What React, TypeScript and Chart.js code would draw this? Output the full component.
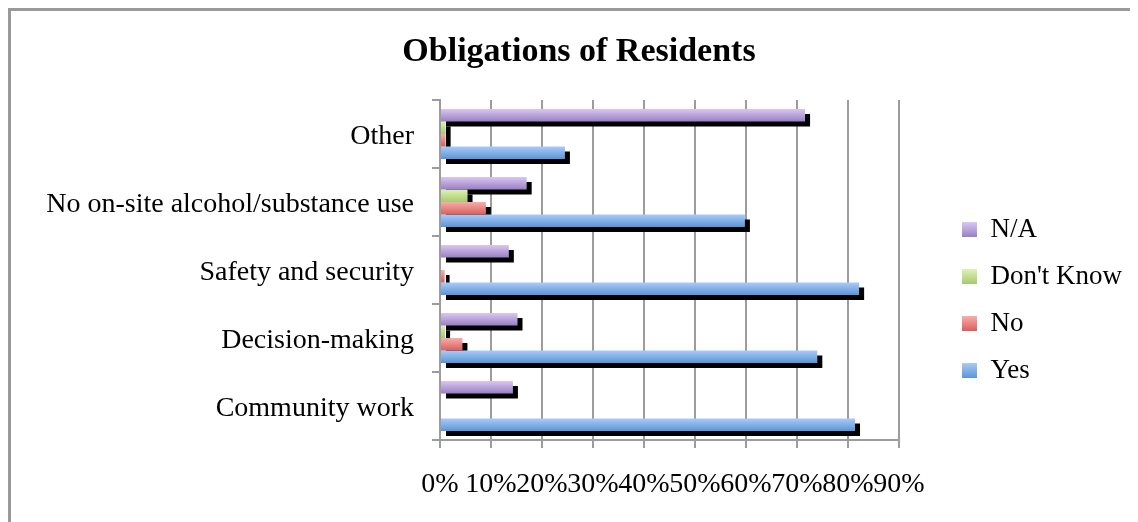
import React, { useEffect, useRef } from "react";
import { Chart, registerables } from "chart.js";

Chart.register(...registerables);

// ---------- data ----------
const categories = [
  "Other",
  "No on-site alcohol/substance use",
  "Safety and security",
  "Decision-making",
  "Community work",
];
const seriesNames = ["N/A", "Don't Know", "No", "Yes"];
const naValues = [71.6, 17.0, 13.5, 15.2, 14.3];
const dontKnowValues = [1.1, 5.4, 0, 1.0, 0];
const noValues = [1.1, 9.0, 0.9, 4.4, 0];
const yesValues = [24.5, 59.8, 82.2, 74.0, 81.4];
const xTickValues = [0, 10, 20, 30, 40, 50, 60, 70, 80, 90];

// ---------- styles ----------
const FONT = "'Liberation Serif', 'Times New Roman', serif";
const topColors = ["#d8c8f0", "#def2b8", "#f8aeab", "#aacbf7"];
const bottomColors = ["#9a7fc4", "#a6ca6c", "#d65f5c", "#5a95d7"];
const midColors = ["#b8a2da", "#c3e08f", "#e88582", "#80b0ea"];
const GRID = "#9c9c9c";
const CANVAS_W = 1127;
const CANVAS_H = 511;
const Y_AXIS_W = 429;
const X_AXIS_H = 82;
const LEGEND_LEFT = 931;
const LEGEND_CENTER_Y = 289;
const LEGEND_FONT = 27;
const LEGEND_BOX = 15;
const TITLE_CENTER_X = 568;
const SHADOW = 5;

const refPlugin = {
  id: "refPlugin",
  afterLayout(chart: any) {
    const lg = chart.legend;
    if (lg) {
      const w = lg.width;
      const h = lg.height;
      lg.left = LEGEND_LEFT;
      lg.right = LEGEND_LEFT + w;
      lg.top = LEGEND_CENTER_Y - h / 2;
      lg.bottom = lg.top + h;
    }
    const tb = chart.titleBlock;
    if (tb) {
      const w = tb.width;
      tb.left = TITLE_CENTER_X - w / 2;
      tb.right = tb.left + w;
    }
  },
  beforeDraw(chart: any) {
    const lg = chart.legend;
    const ctx = chart.ctx;
    if (!lg || !lg.legendItems || !lg.legendHitBoxes) return;
    lg.legendItems.forEach((item: any, i: number) => {
      const hb = lg.legendHitBoxes[i];
      if (!hb) return;
      const top = hb.top + Math.max((LEGEND_FONT - LEGEND_BOX) / 2, 0);
      const g = ctx.createLinearGradient(0, top, 0, top + LEGEND_BOX);
      const di = item.datasetIndex;
      g.addColorStop(0, topColors[di]);
      g.addColorStop(1, bottomColors[di]);
      item.fillStyle = g;
    });
  },
  beforeDatasetsDraw(chart: any) {
    const ctx = chart.ctx;
    chart.data.datasets.forEach((_ds: any, di: number) => {
      const meta = chart.getDatasetMeta(di);
      meta.data.forEach((el: any) => {
        const { x, y, base, height } = el.getProps(["x", "y", "base", "height"], true);
        const left = Math.min(x, base);
        const w = Math.abs(x - base);
        const top = y - height / 2;
        const g = ctx.createLinearGradient(0, top, 0, top + height);
        g.addColorStop(0, topColors[di]);
        g.addColorStop(1, bottomColors[di]);
        el.options = Object.assign({}, el.options, { backgroundColor: g });
        if (w > 0.5) {
          ctx.save();
          ctx.fillStyle = "#000";
          ctx.fillRect(left + SHADOW, top + SHADOW, w, height);
          ctx.restore();
        }
      });
    });
  },
};

export default function App() {
  const ref = useRef<HTMLCanvasElement>(null);

  useEffect(() => {
    document.documentElement.style.overflow = "hidden";
    document.body.style.overflow = "hidden";
    const seriesValues = [naValues, dontKnowValues, noValues, yesValues];
    const chart = new Chart(ref.current as HTMLCanvasElement, {
      type: "bar",
      data: {
        labels: categories,
        datasets: seriesNames.map((name, i) => ({
          label: name,
          data: seriesValues[i],
          backgroundColor: midColors[i],
          borderWidth: 0,
          categoryPercentage: 0.735,
          barPercentage: 1.0,
        })),
      },
      options: {
        indexAxis: "y",
        responsive: false,
        maintainAspectRatio: false,
        animation: false,
        events: [],
        layout: { padding: { top: 0, right: 49, bottom: 0, left: 0 } },
        plugins: {
          title: {
            display: true,
            text: "Obligations of Residents",
            color: "#000",
            font: { family: FONT, size: 34, weight: "bold", lineHeight: 1.2 },
            padding: { top: 20.6, bottom: 27.6 },
          },
          legend: {
            display: true,
            position: "right",
            fullSize: false,
            labels: {
              color: "#000",
              font: { family: FONT, size: LEGEND_FONT },
              boxWidth: LEGEND_BOX,
              boxHeight: LEGEND_BOX,
              padding: 20,
            },
          },
          tooltip: { enabled: false },
        },
        scales: {
          x: {
            type: "linear",
            min: 0,
            max: 90,
            afterBuildTicks: (s: any) => {
              s.ticks = xTickValues.map((v) => ({ value: v }));
            },
            afterFit: (s: any) => {
              s.height = X_AXIS_H;
            },
            ticks: {
              autoSkip: false,
              maxRotation: 0,
              minRotation: 0,
              padding: 20,
              color: "#000",
              font: { family: FONT, size: 28 },
              callback: (v: any) => v + "%",
            },
            grid: { color: GRID, lineWidth: 2, tickLength: 8, drawTicks: true },
            border: { color: GRID, width: 2 },
          },
          y: {
            afterFit: (s: any) => {
              s.width = Y_AXIS_W;
            },
            ticks: {
              autoSkip: false,
              padding: 18,
              labelOffset: 3,
              color: "#000",
              font: { family: FONT, size: 28 },
            },
            grid: {
              drawOnChartArea: false,
              offset: true,
              tickLength: 8,
              color: GRID,
              lineWidth: 2,
            },
            border: { color: GRID, width: 2 },
          },
        },
      },
      plugins: [refPlugin],
    } as any);
    return () => chart.destroy();
  }, []);

  return (
    <div
      style={{
        width: CANVAS_W,
        height: CANVAS_H,
        borderLeft: "3px solid #9a9a9a",
        borderTop: "3px solid #9a9a9a",
        overflow: "hidden",
        background: "#fff",
      }}
    >
      <canvas
        ref={ref}
        width={CANVAS_W}
        height={CANVAS_H}
        style={{ display: "block", width: CANVAS_W, height: CANVAS_H }}
      />
    </div>
  );
}
